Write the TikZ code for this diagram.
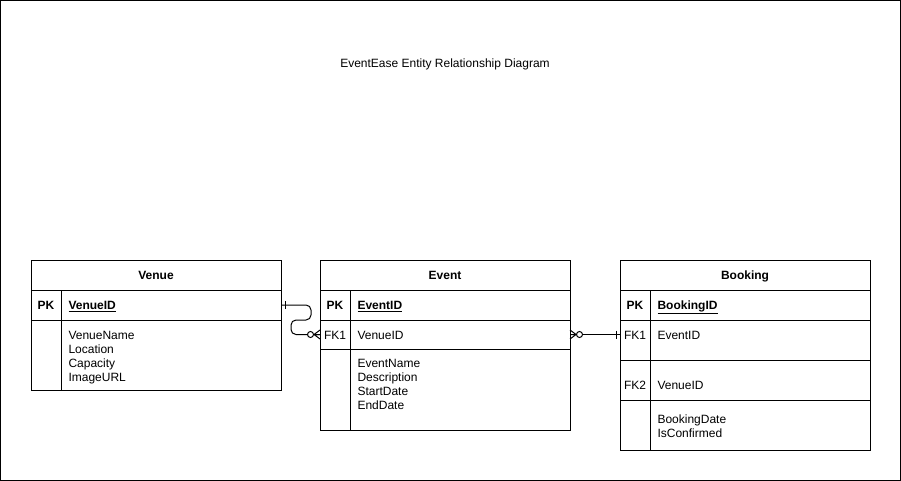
\documentclass[tikz,border=0pt]{standalone}
\usepackage{fontspec}
\setmainfont{Liberation Sans}
\usetikzlibrary{positioning}

\tikzset{
  ent/.style={draw,minimum width=250pt,minimum height=30pt,inner sep=0pt,outer sep=0pt,
    text height=9pt,text depth=0pt,anchor=north west},
  fld/.style={inner sep=0pt,text height=9pt,text depth=0pt},
  key/.style={fld,font=\fontsize{12}{14}\selectfont\bfseries},
  attrs/.style={inner sep=0pt,align=left,anchor=north west},
  one/.pic={\draw (0,-4) -- (0,4);},
  zeromany/.pic={\draw (0,-4.5) -- (-6,0) -- (0,4.5) (0,0) -- (-6,0);
    \draw[fill=white] (-9.5,0) circle (3pt);}
}

\begin{document}
\begin{tikzpicture}[x=1pt,y=-1pt,line width=1pt,font=\fontsize{12}{14}\selectfont]
  \useasboundingbox (0,0) rectangle (901,481);
  \draw (0.5,0.5) rectangle (900.5,480.5);
  \node[anchor=base] (title) at (445,68) {EventEase Entity Relationship Diagram};

  % Venue
  \node[ent] (venue) at (31,260) {\textbf{Venue}};
  \node[ent,below=0pt of venue] (venuePK) {};
  \node[ent,below=0pt of venuePK,minimum height=70pt] (venueAttr) {};
  \draw ([xshift=30pt]venuePK.north west) -- ([xshift=30pt]venueAttr.south west);
  \node[key] (venuePKkey) at ([xshift=15pt]venuePK.west) {PK};
  \node[key,anchor=west] (venueID) at ([xshift=37pt]venuePK.west) {\underline{VenueID}};
  \node[attrs] (venueList) at ([xshift=37pt,yshift=-11pt]venueAttr.north west)
    {VenueName\\Location\\Capacity\\ImageURL};

  % Event
  \node[ent] (event) at (320,260) {\textbf{Event}};
  \node[ent,below=0pt of event] (eventPK) {};
  \node[ent,below=0pt of eventPK,minimum height=29pt] (eventFK) {};
  \node[ent,below=0pt of eventFK,minimum height=81pt] (eventAttr) {};
  \draw ([xshift=30pt]eventPK.north west) -- ([xshift=30pt]eventAttr.south west);
  \node[key] (eventPKkey) at ([xshift=15pt]eventPK.west) {PK};
  \node[key,anchor=west] (eventID) at ([xshift=37pt]eventPK.west) {\underline{EventID}};
  \node[fld] (eventFKkey) at ([xshift=15pt]eventFK.west) {FK1};
  \node[fld,anchor=west] (eventVenue) at ([xshift=37pt]eventFK.west) {VenueID};
  \node[attrs] (eventList) at ([xshift=37pt,yshift=-10pt]eventAttr.north west)
    {EventName\\Description\\StartDate\\EndDate};

  % Booking
  \node[ent] (booking) at (620,260) {\textbf{Booking}};
  \node[ent,below=0pt of booking] (bookingPK) {};
  \node[ent,below=0pt of bookingPK,minimum height=40pt] (bookingFK1) {};
  \node[ent,below=0pt of bookingFK1,minimum height=40pt] (bookingFK2) {};
  \node[ent,below=0pt of bookingFK2,minimum height=50pt] (bookingAttr) {};
  \draw ([xshift=30pt]bookingPK.north west) -- ([xshift=30pt]bookingAttr.south west);
  \node[key] (bookingPKkey) at ([xshift=15pt]bookingPK.west) {PK};
  \node[key,anchor=west] (bookingID) at ([xshift=37pt]bookingPK.west) {\underline{BookingID}};
  \node[fld] (bookingFK1key) at ([xshift=15pt,yshift=5pt]bookingFK1.west) {FK1};
  \node[fld,anchor=west] (bookingEvent) at ([xshift=37pt,yshift=5pt]bookingFK1.west) {EventID};
  \node[fld] (bookingFK2key) at ([xshift=15pt,yshift=-5pt]bookingFK2.west) {FK2};
  \node[fld,anchor=west] (bookingVenue) at ([xshift=37pt,yshift=-5pt]bookingFK2.west) {VenueID};
  \node[attrs] (bookingList) at ([xshift=37pt,yshift=-14pt]bookingAttr.north west)
    {BookingDate\\IsConfirmed};

  % relations
  \draw[rounded corners=5pt] (venuePK.east) -- ++(30,0)
    |- ([xshift=10pt,yshift=-15pt]venuePK.east) |- (eventFK.west);
  \draw (eventFK.east) -- (eventFK.east -| bookingFK1.west);
  \pic at ([xshift=4pt]venuePK.east) {one};
  \pic at (eventFK.west) {zeromany};
  \pic[xscale=-1] at (eventFK.east) {zeromany};
  \pic at ([xshift=-4pt]eventFK.east -| bookingFK1.west) {one};
\end{tikzpicture}
\end{document}
